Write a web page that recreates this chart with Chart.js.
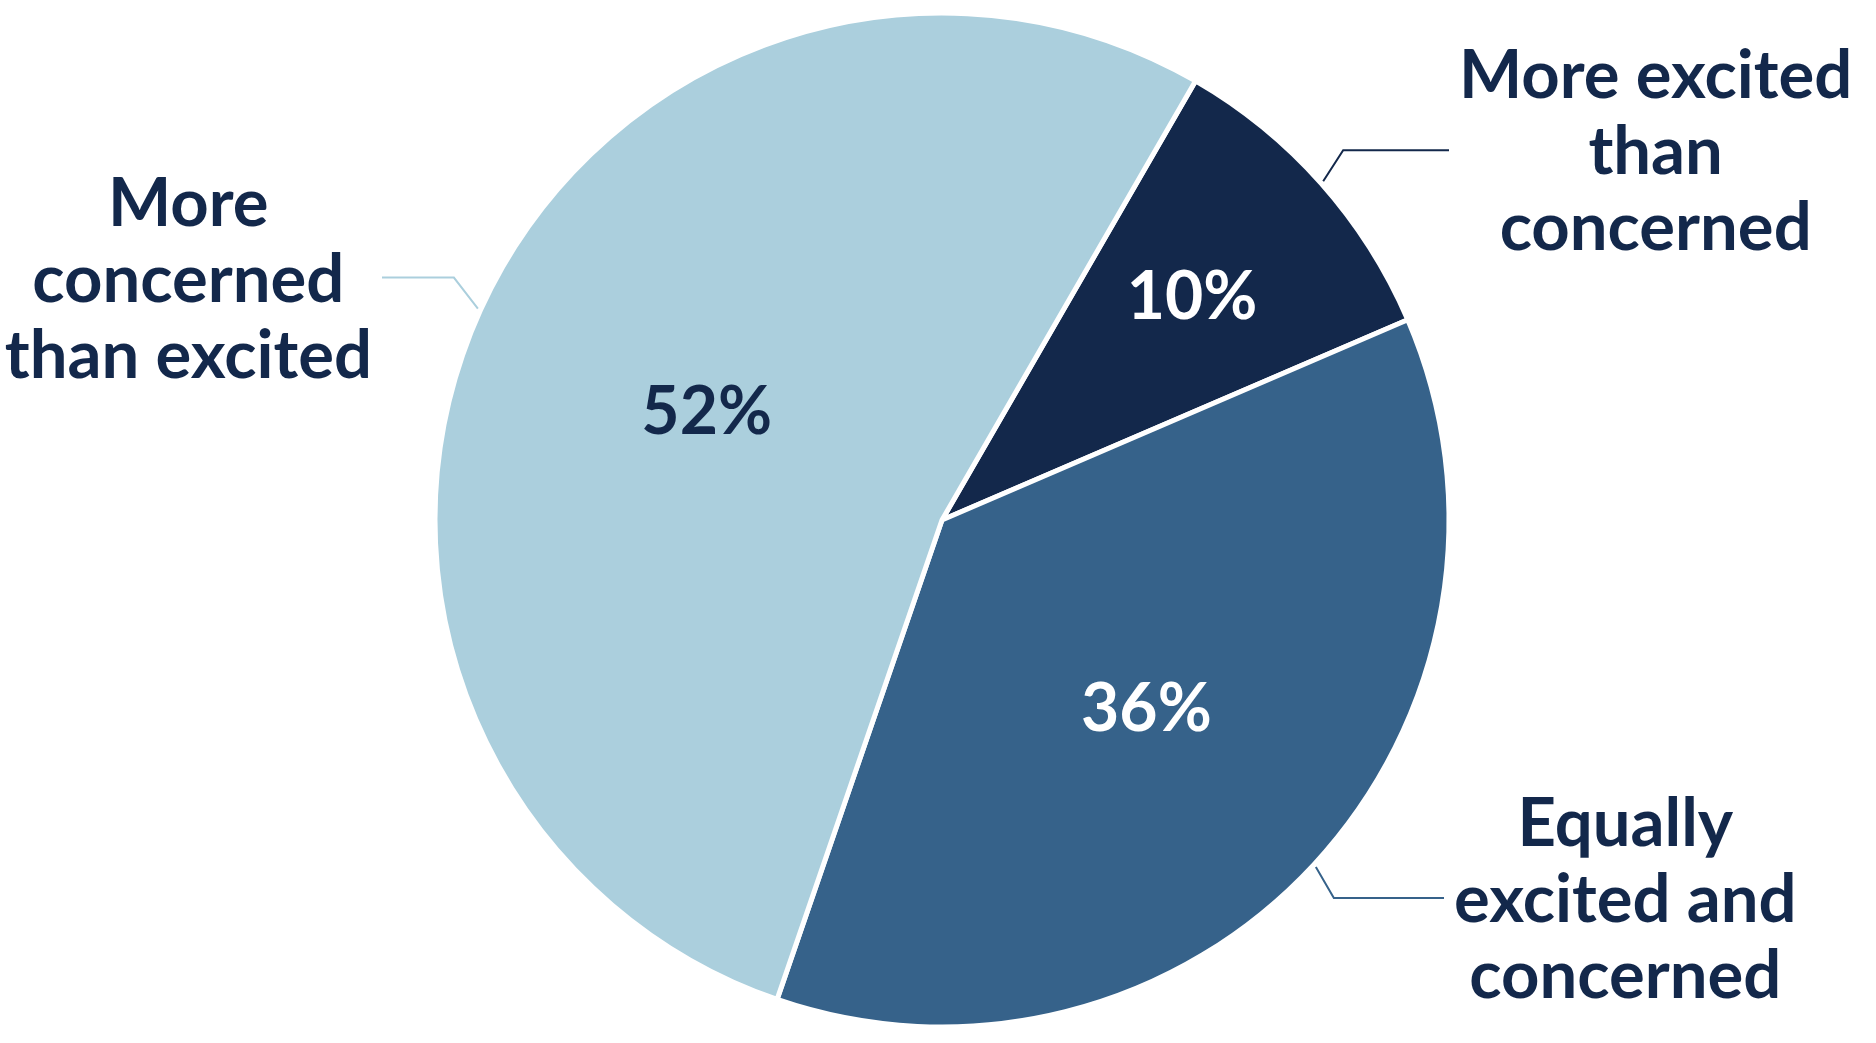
<!DOCTYPE html>
<html>
<head>
<meta charset="utf-8">
<script src="https://cdn.jsdelivr.net/npm/chart.js@4.4.1/dist/chart.umd.min.js"></script>
<style>
  html, body { margin: 0; padding: 0; background: #fff; }
  #wrap { width: 1876px; height: 1043px; position: relative; }
</style>
</head>
<body>
<div id="wrap"><canvas id="pie"></canvas></div>
<script>
const categories = [
  ['More excited', 'than', 'concerned'],
  ['Equally', 'excited and', 'concerned'],
  ['More', 'concerned', 'than excited']
];
const shares = [10, 36, 52];
const shareLabels = ['10%', '36%', '52%'];
const sliceColors = ['#13284b', '#36628a', '#abcfdd'];
const valueColors = ['#ffffff', '#ffffff', '#13284b'];

const textColor = '#13284b';
const fontFamily = 'Lato, "Noto Sans", sans-serif';

// where the % goes inside each slice (fraction of radius)
const valueRadius = [0.66, 0.55, 0.51];
// leader line: horizontal end x
const leaderEndX = [1449, 1444, 382];
const leaderElbow = [20, 18, 24];

const labelPlugin = {
  id: 'pieLabels',
  afterDatasetsDraw(chart) {
    const ctx = chart.ctx;
    const meta = chart.getDatasetMeta(0);
    ctx.save();
    meta.data.forEach((arc, i) => {
      const p = arc.getProps(['x', 'y', 'startAngle', 'endAngle', 'outerRadius'], true);
      const mid = (p.startAngle + p.endAngle) / 2;
      const cos = Math.cos(mid), sin = Math.sin(mid);

      // value inside slice
      const vr = p.outerRadius * valueRadius[i];
      ctx.font = 'bold 66px ' + fontFamily;
      ctx.fillStyle = valueColors[i];
      ctx.textAlign = 'center';
      ctx.textBaseline = 'middle';
      ctx.fillText(shareLabels[i], p.x + cos * vr, p.y + sin * vr);

      // leader line: short steep stroke off the rim, then horizontal
      const sx = p.x + cos * (p.outerRadius + 3), sy = p.y + sin * (p.outerRadius + 3);
      const ex = sx + Math.sign(cos) * leaderElbow[i], ey = sy + Math.sign(sin) * 31;
      ctx.strokeStyle = sliceColors[i];
      ctx.lineWidth = 2;
      ctx.beginPath();
      ctx.moveTo(sx, sy);
      ctx.lineTo(ex, ey);
      ctx.lineTo(leaderEndX[i], ey);
      ctx.stroke();

      // category text block
      const lines = categories[i];
      ctx.font = 'bold 67px ' + fontFamily;
      const maxW = Math.max(...lines.map(l => ctx.measureText(l).width));
      const right = leaderEndX[i] > p.x;
      const cx = right ? leaderEndX[i] + 10 + maxW / 2 : leaderEndX[i] - 10 - maxW / 2;
      const lh = 76;
      ctx.fillStyle = textColor;
      ctx.textBaseline = 'alphabetic';
      lines.forEach((l, k) => {
        ctx.fillText(l, cx, ey + 24 + (k - 1) * lh);
      });
    });
    ctx.restore();
  }
};

new Chart(document.getElementById('pie'), {
  type: 'pie',
  data: {
    labels: categories.map(c => c.join(' ')),
    datasets: [{
      data: shares,
      backgroundColor: sliceColors,
      borderColor: '#ffffff',
      borderWidth: 5,
      radius: 507
    }]
  },
  options: {
    responsive: true,
    maintainAspectRatio: false,
    animation: false,
    rotation: 30,
    layout: { padding: { left: 8, bottom: 3 } },
    plugins: {
      legend: { display: false },
      tooltip: { enabled: false }
    }
  },
  plugins: [labelPlugin]
});
</script>
</body>
</html>
